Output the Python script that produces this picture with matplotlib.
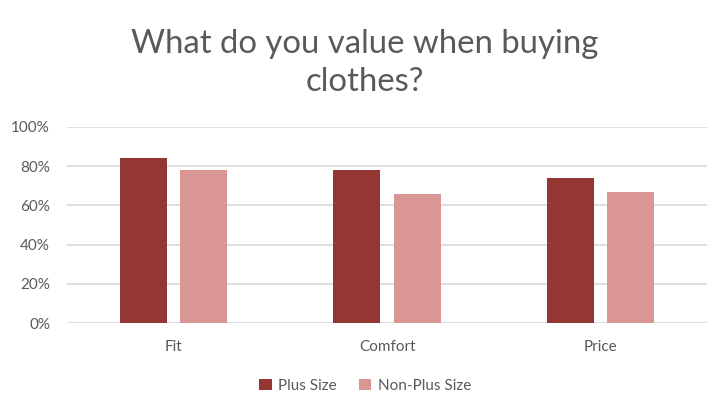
import matplotlib
matplotlib.use('Agg')
import matplotlib.pyplot as plt
import numpy as np
from matplotlib.ticker import PercentFormatter

plt.rcParams['font.family'] = ['Lato', 'DejaVu Sans']

categories = ['Fit', 'Comfort', 'Price']
plus_size = [0.84, 0.78, 0.74]
non_plus_size = [0.78, 0.66, 0.67]

c_plus = '#943634'
c_non = '#D99694'
grey = '#595959'

fig = plt.figure(figsize=(7.2, 4.09), dpi=100)
ax = fig.add_axes([0.0926, 0.21, 0.890, 0.4795])

x = np.arange(len(categories))
w = 0.22
off = 0.141
ax.bar(x - off, plus_size, w, color=c_plus, label='Plus Size', zorder=3)
ax.bar(x + off, non_plus_size, w, color=c_non, label='Non-Plus Size', zorder=3)

ax.set_xlim(-0.5, 2.5)
ax.set_ylim(0, 1.0)
ax.set_yticks(np.arange(0, 1.01, 0.2))
ax.yaxis.set_major_formatter(PercentFormatter(1.0, decimals=0))
ax.set_xticks(x)
ax.set_xticklabels(categories)
ax.grid(axis='y', color='#D9D9D9', lw=1.2, zorder=0)
for s in ax.spines.values():
    s.set_visible(False)
ax.tick_params(axis='both', length=0, colors=grey, labelsize=11)
ax.tick_params(axis='x', pad=12)
ax.tick_params(axis='y', pad=12)

fig.text(0.507, 0.846, 'What do you value when buying\nclothes?', ha='center', va='center',
         fontsize=23.7, color=grey, linespacing=1.3)

fig.legend(loc='center', bbox_to_anchor=(0.507, 0.057), ncol=2, frameon=False,
           fontsize=11, labelcolor=grey, handlelength=0.8, handleheight=0.8,
           columnspacing=1.5, handletextpad=0.4)

fig.savefig('out.png', dpi=100)
